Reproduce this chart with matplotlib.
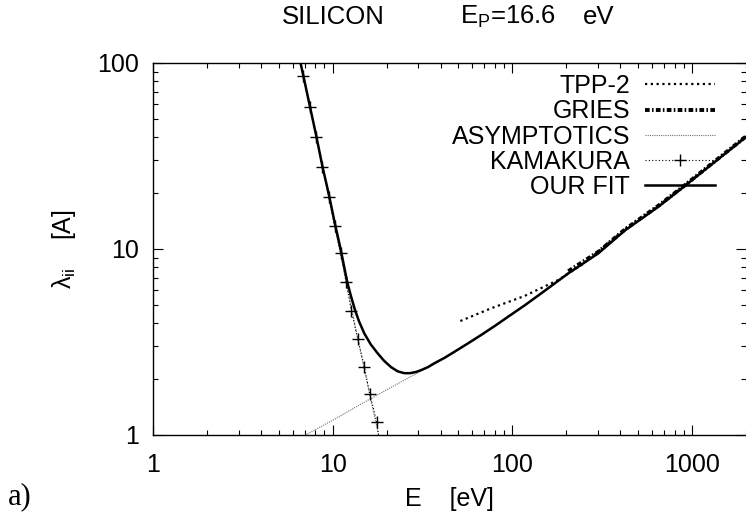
import matplotlib
matplotlib.use('Agg')
import matplotlib.pyplot as plt
from matplotlib.ticker import LogLocator, NullFormatter

plt.rcParams['font.family'] = ['Liberation Sans', 'DejaVu Sans']
plt.rcParams['mathtext.fontset'] = 'custom'
plt.rcParams['mathtext.rm'] = 'Liberation Sans'
plt.rcParams['mathtext.it'] = 'Liberation Sans:italic'

# Kamakura points (E in eV, lambda in A), end points are line only
kam_E = [6.55, 6.86, 7.47, 8.11, 8.76, 9.53, 10.26, 11.08, 11.9, 12.7, 13.8, 15.0, 16.1, 17.6, 18.0]
kam_L = [105, 85.5, 58.2, 40.2, 27.7, 19.1, 13.3, 9.55, 6.62, 4.66, 3.29, 2.33, 1.66, 1.18, 1.0]

# asymptotics: low energy branch and high energy branch
asy_lo_E = [6.55, 8.11, 10.26, 13.8, 18.0]
asy_lo_L = [105, 40.2, 13.3, 3.29, 1.0]
asy_hi_E = [7.07, 10, 15, 20, 25, 30, 36.8, 47.6, 67.1, 94.6, 145, 205, 301, 424, 651, 879, 1240, 2000]
asy_hi_L = [1.0, 1.2, 1.5, 1.75, 1.97, 2.17, 2.40, 2.78, 3.42, 4.28, 5.72, 7.32, 9.38, 12.5, 16.7, 21.0, 27.4, 39.6]

# TPP-2
tpp_E = [51.4, 76.3, 117, 180, 243, 301, 424, 651, 879, 1240, 2000]
tpp_L = [4.10, 4.80, 5.59, 6.81, 8.20, 9.70, 12.8, 17.1, 21.4, 27.9, 40.3]

# Gries
gri_E = [205, 301, 424, 651, 879, 1240, 2000]
gri_L = [7.6, 9.65, 12.75, 17.1, 21.4, 27.9, 40.3]

# our fit
fit_E = [6.55, 6.86, 7.47, 8.11, 8.76, 9.53, 10.26, 11.1, 11.6, 12.1, 12.7, 13.3, 14.0, 15.0,
         16.3, 17.8, 19.3, 21.1, 23.0, 25.0, 27.0, 29.0, 31.0, 34.0, 36.8, 42.0, 47.6,
         57.0, 67.1, 80.0, 94.6, 118, 145, 205, 301, 424, 651, 879, 1240, 2000]
fit_L = [105, 86, 58.5, 40.5, 28.0, 19.6, 13.9, 9.9, 8.0, 6.54, 5.5, 4.72, 4.10, 3.52,
         3.07, 2.75, 2.51, 2.32, 2.20, 2.15, 2.15, 2.18, 2.23, 2.32, 2.43, 2.60, 2.80,
         3.12, 3.45, 3.86, 4.32, 5.00, 5.78, 7.40, 9.48, 12.6, 16.9, 21.2, 27.7, 40.0]

fig = plt.figure(figsize=(7.46, 5.23), dpi=100)
ax = fig.add_axes([153/746, 88/523, 593/746, 372/523])

ax.plot(tpp_E, tpp_L, color='black', lw=1.6, dashes=(1, 1.6), label='TPP-2')
ax.plot(gri_E, gri_L, color='black', lw=2.8, dashes=(1.2, 0.6, 0.4, 0.6), label='GRIES', zorder=4)
ax.plot(asy_lo_E, asy_lo_L, color='0.45', lw=0.8, dashes=(1, 1), label='ASYMPTOTICS')
ax.plot(asy_hi_E, asy_hi_L, color='0.45', lw=0.8, dashes=(1, 1))
ax.plot(kam_E, kam_L, color='black', lw=0.8, dashes=(1, 2), marker='+', ms=8, mew=1,
        markevery=slice(1, -1), label='KAMAKURA')
ax.plot(fit_E, fit_L, color='black', lw=1.8, label='OUR FIT', zorder=3)

ax.set_xscale('log')
ax.set_yscale('log')
ax.set_xlim(1, 2000)
ax.set_ylim(1, 100)

ax.set_xticks([1, 10, 100, 1000])
ax.set_xticklabels(['1', '10', '100', '1000'])
ax.set_yticks([1, 10, 100])
ax.set_yticklabels(['1', '10', '100'])
ax.xaxis.set_minor_locator(LogLocator(base=10, subs=range(2, 10)))
ax.yaxis.set_minor_locator(LogLocator(base=10, subs=range(2, 10)))
ax.xaxis.set_minor_formatter(NullFormatter())
ax.yaxis.set_minor_formatter(NullFormatter())
ax.tick_params(which='both', direction='in', top=True, right=True, labelsize=18)
ax.tick_params(which='major', length=7, width=0.8)
ax.tick_params(which='minor', length=3.5, width=0.8)
ax.tick_params(axis='x', pad=13)
ax.tick_params(axis='y', pad=10)
for s in ax.spines.values():
    s.set_linewidth(1.0)
ax.spines['right'].set_visible(False)

ax.set_xlabel('E    [eV]', fontsize=18, labelpad=7)
ax.set_ylabel('λ$_{\\mathrm{ii}}$    [A]', fontsize=18, labelpad=14)

# heading in three pieces: material, plasmon energy, unit
ty = 1 - 17/523
fig.text(282/746, ty, 'SILICON', ha='left', va='center', fontsize=18.5)
fig.text(460/746, ty, 'E$_{\\mathrm{P}}$=16.6', ha='left', va='center', fontsize=18.5)
fig.text(583/746, ty, 'eV', ha='left', va='center', fontsize=18.5)

fig.text(8/746, 1 - 497/523, 'a)', ha='left', va='center', fontsize=22,
         family='Liberation Serif')

ax.legend(loc='upper right', frameon=False, markerfirst=False, fontsize=18,
          handlelength=2.8, handletextpad=0.6, numpoints=1, labelspacing=0.05,
          borderpad=0, borderaxespad=0, bbox_to_anchor=((715 - 153) / 593, 0.970))

fig.savefig('out.png', dpi=100)
